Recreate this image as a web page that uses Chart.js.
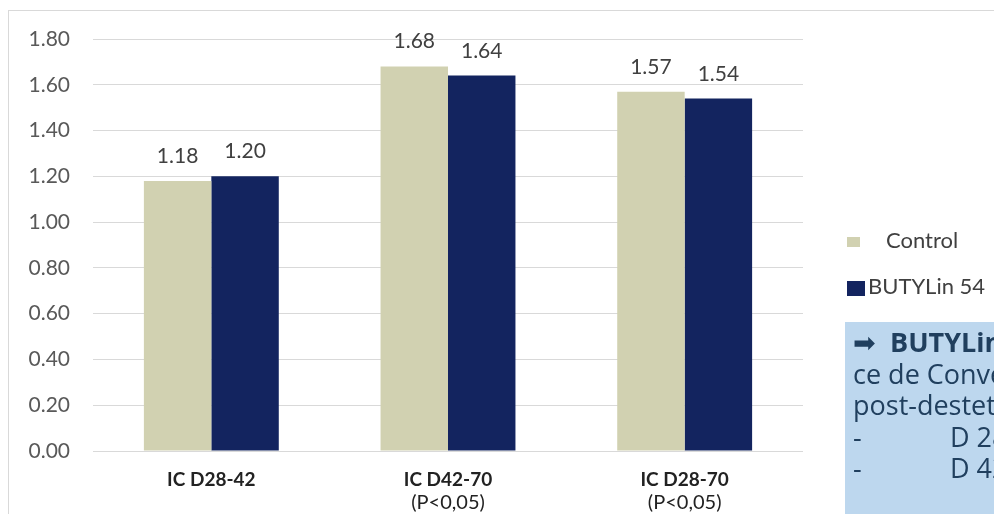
<!DOCTYPE html>
<html>
<head>
<meta charset="utf-8">
<script src="https://cdn.jsdelivr.net/npm/chart.js@4.4.0/dist/chart.umd.min.js"></script>
<style>
  html, body { margin:0; padding:0; background:#fff; }
  #wrap { position:relative; width:994px; height:514px; overflow:hidden; }
  #frame { position:absolute; left:8px; top:10px; width:1000px; height:520px;
           border-top:1px solid #d9d9d9; border-left:1px solid #d9d9d9; }
  #chart { position:absolute; left:0; top:0; }
  .leg { position:absolute; left:847px; font:22px Lato, sans-serif; color:#404040; white-space:nowrap; }
  .leg i { display:inline-block; vertical-align:middle; }
  #note { position:absolute; left:845px; top:322px; width:260px; height:200px;
          background:#bdd7ee; color:#203f5e; font:27px "Open Sans", sans-serif;
          line-height:31.5px; padding:4px 0 0 8px; white-space:nowrap; }
  #note .dash { display:inline-block; width:97px; }
</style>
</head>
<body>
<div id="wrap">
  <div id="frame"></div>
  <canvas id="chart" width="994" height="514"></canvas>
  <div id="legend"></div>
  <div id="note">
    <div>&#10145;&nbsp; <b>BUTYLin 54 mejora el índi</b></div>
    <div>ce de Conversión en la fase</div>
    <div>post-destete:</div>
    <div><span class="dash">-</span>D 28-42</div>
    <div><span class="dash">-</span>D 42-70</div>
  </div>
</div>
<script>
const categories = ['IC D28-42', 'IC D42-70', 'IC D28-70'];
const subLabels = ['', '(P<0,05)', '(P<0,05)'];
const seriesNames = ['Control', 'BUTYLin 54'];
const controlValues = [1.18, 1.68, 1.57];
const butylinValues = [1.20, 1.64, 1.54];
const seriesColors = ['#d1d1b1', '#13245f'];

// value labels above each bar
const valueLabels = {
  id: 'valueLabels',
  afterDatasetsDraw(chart) {
    const ctx = chart.ctx;
    ctx.save();
    ctx.font = '21px Lato';
    ctx.fillStyle = '#404040';
    ctx.textAlign = 'center';
    ctx.textBaseline = 'alphabetic';
    chart.data.datasets.forEach((ds, i) => {
      chart.getDatasetMeta(i).data.forEach((bar, j) => {
        ctx.fillText(ds.data[j].toFixed(2), bar.x, bar.y - 18);
      });
    });
    ctx.restore();
  }
};

const ctx = document.getElementById('chart').getContext('2d');
new Chart(ctx, {
  type: 'bar',
  data: {
    labels: categories,
    datasets: [
      { label: seriesNames[0], data: controlValues, backgroundColor: seriesColors[0] },
      { label: seriesNames[1], data: butylinValues, backgroundColor: seriesColors[1] }
    ]
  },
  options: {
    responsive: false,
    animation: false,
    layout: { padding: { top: 39, right: 191, bottom: 0, left: 0 } },
    datasets: { bar: { barPercentage: 1, categoryPercentage: 0.57 } },
    plugins: { legend: { display: false }, tooltip: { enabled: false } },
    scales: {
      x: {
        grid: { display: false, drawTicks: false },
        border: { display: false },
        ticks: { padding: 17, autoSkip: false, maxRotation: 0, color: '#222',
                 font: { family: 'Lato', size: 19, weight: 'bold' } },
        afterFit(s) { s.height = 40; }
      },
      x2: {
        type: 'category',
        labels: subLabels,
        position: 'bottom',
        grid: { display: false, drawTicks: false },
        border: { display: false },
        ticks: { padding: 0, autoSkip: false, maxRotation: 0, color: '#222',
                 font: { family: 'Lato', size: 20 } },
        afterFit(s) { s.height = 23; }
      },
      y: {
        min: 0,
        max: 1.8,
        grid: { color: '#d9d9d9', drawTicks: false },
        border: { display: false },
        ticks: { stepSize: 0.2, padding: 23, color: '#595959',
                 font: { family: 'Lato', size: 21 },
                 callback: v => Number(v).toFixed(2) },
        afterFit(s) { s.width = 93; }
      }
    }
  },
  plugins: [valueLabels]
});

// legend built from the series arrays
const legend = document.getElementById('legend');
const legTops = [226, 272];
const boxes = [[13, 10, 26], [18, 15, 3]];
seriesNames.forEach((name, i) => {
  const d = document.createElement('div');
  d.className = 'leg';
  d.style.top = legTops[i] + 'px';
  d.innerHTML = `<i style="width:${boxes[i][0]}px;height:${boxes[i][1]}px;background:${seriesColors[i]};margin-right:${boxes[i][2]}px"></i>${name}`;
  legend.appendChild(d);
});
</script>
</body>
</html>
